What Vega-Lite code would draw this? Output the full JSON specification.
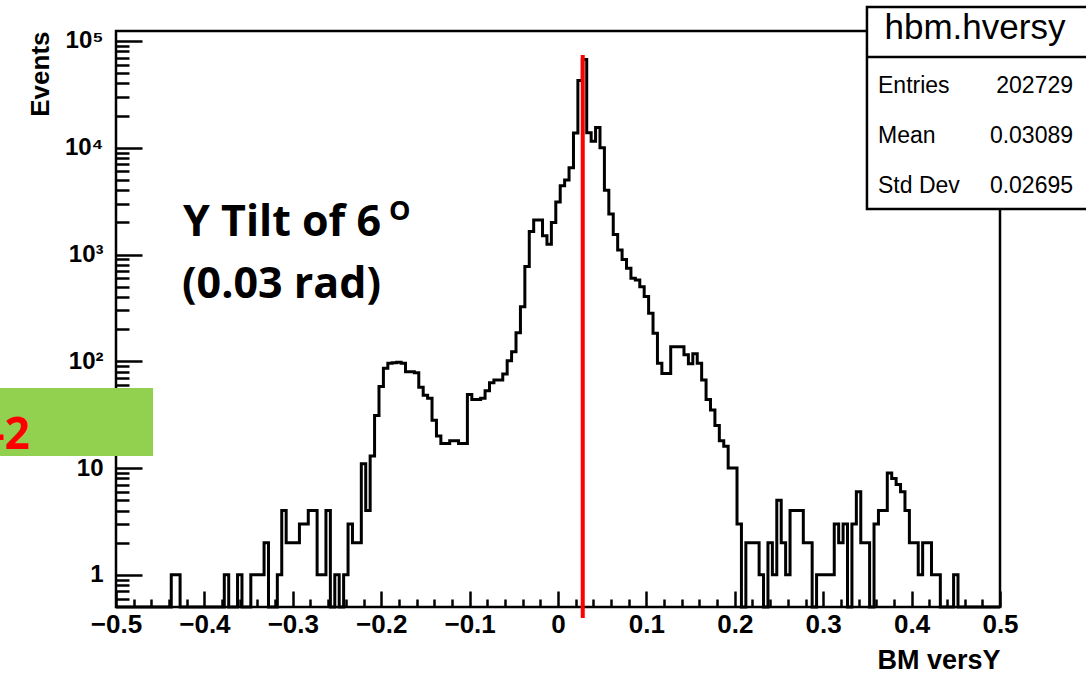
{
  "$schema": "https://vega.github.io/schema/vega-lite/v6.json",
  "width": 884,
  "height": 576,
  "autosize": {"type": "none"},
  "padding": {"left": 116, "top": 31, "right": 86, "bottom": 66},
  "background": "white",
  "config": {
    "view": {"stroke": "black", "strokeWidth": 2.5},
    "axis": {
      "domain": false, "grid": false, "tickColor": "black", "tickWidth": 2.5,
      "labelColor": "black", "titleColor": "black",
      "labelFont": "Liberation Sans", "titleFont": "Liberation Sans",
      "labelFontWeight": "bold", "titleFontWeight": "bold",
      "labelOverlap": false, "labelFlush": false, "labelBound": false
    }
  },
  "resolve": {"scale": {"y": "independent"}, "axis": {"x": "independent", "y": "independent"}},
  "layer": [
    {
      "data": {"values": [
        {"x":-0.5,"n":0},{"x":-0.495,"n":0},{"x":-0.49,"n":0},{"x":-0.485,"n":0},{"x":-0.48,"n":0},{"x":-0.475,"n":0},{"x":-0.47,"n":0},{"x":-0.465,"n":0},{"x":-0.46,"n":0},{"x":-0.455,"n":0},{"x":-0.45,"n":0},{"x":-0.445,"n":0},{"x":-0.44,"n":0},
        {"x":-0.435,"n":1},{"x":-0.43,"n":1},
        {"x":-0.425,"n":0},{"x":-0.42,"n":0},{"x":-0.415,"n":0},{"x":-0.41,"n":0},{"x":-0.405,"n":0},{"x":-0.4,"n":0},{"x":-0.395,"n":0},{"x":-0.39,"n":0},{"x":-0.385,"n":0},{"x":-0.38,"n":0},
        {"x":-0.375,"n":1},{"x":-0.37,"n":0},{"x":-0.365,"n":0},{"x":-0.36,"n":1},{"x":-0.355,"n":0},{"x":-0.35,"n":0},
        {"x":-0.345,"n":1},{"x":-0.34,"n":1},{"x":-0.335,"n":1},{"x":-0.33,"n":2},{"x":-0.325,"n":0},{"x":-0.32,"n":0},{"x":-0.315,"n":1},{"x":-0.31,"n":4},{"x":-0.305,"n":2},{"x":-0.3,"n":2},{"x":-0.295,"n":2},{"x":-0.29,"n":3},{"x":-0.285,"n":3},{"x":-0.28,"n":4},{"x":-0.275,"n":4},{"x":-0.27,"n":1},{"x":-0.265,"n":1},{"x":-0.26,"n":4},{"x":-0.255,"n":0},{"x":-0.25,"n":1},{"x":-0.245,"n":0},{"x":-0.24,"n":1},{"x":-0.235,"n":3},{"x":-0.23,"n":2},{"x":-0.225,"n":2},
        {"x":-0.22,"n":11},{"x":-0.215,"n":4},{"x":-0.21,"n":13},{"x":-0.205,"n":31},{"x":-0.2,"n":58},{"x":-0.195,"n":86},{"x":-0.19,"n":96},{"x":-0.185,"n":97},{"x":-0.18,"n":98},{"x":-0.175,"n":96},{"x":-0.17,"n":80},{"x":-0.165,"n":80},{"x":-0.16,"n":78},{"x":-0.155,"n":57},{"x":-0.15,"n":48},{"x":-0.145,"n":45},{"x":-0.14,"n":28},{"x":-0.135,"n":20},{"x":-0.13,"n":17},{"x":-0.125,"n":17},{"x":-0.12,"n":18},{"x":-0.115,"n":18},{"x":-0.11,"n":17},{"x":-0.105,"n":17},
        {"x":-0.1,"n":49},{"x":-0.095,"n":44},{"x":-0.09,"n":44},{"x":-0.085,"n":45},{"x":-0.08,"n":53},{"x":-0.075,"n":63},{"x":-0.07,"n":67},{"x":-0.065,"n":67},{"x":-0.06,"n":76},{"x":-0.055,"n":101},{"x":-0.05,"n":123},{"x":-0.045,"n":185},{"x":-0.04,"n":325},{"x":-0.035,"n":771},{"x":-0.03,"n":1640},{"x":-0.025,"n":2110},{"x":-0.02,"n":2110},{"x":-0.015,"n":1500},{"x":-0.01,"n":1250},{"x":-0.005,"n":2000},
        {"x":0,"n":3100},{"x":0.005,"n":4400},{"x":0.01,"n":5000},{"x":0.015,"n":6500},{"x":0.02,"n":13750},{"x":0.025,"n":42700},{"x":0.03,"n":67000},{"x":0.035,"n":13800},{"x":0.04,"n":11500},{"x":0.045,"n":15500},{"x":0.05,"n":10000},{"x":0.055,"n":4000},{"x":0.06,"n":2400},{"x":0.065,"n":1540},{"x":0.07,"n":1100},{"x":0.075,"n":900},{"x":0.08,"n":745},{"x":0.085,"n":600},{"x":0.09,"n":578},{"x":0.095,"n":500},
        {"x":0.1,"n":404},{"x":0.105,"n":282},{"x":0.11,"n":183},{"x":0.115,"n":96},{"x":0.12,"n":77},{"x":0.125,"n":77},{"x":0.13,"n":137},{"x":0.135,"n":137},{"x":0.14,"n":137},{"x":0.145,"n":115},{"x":0.15,"n":95},{"x":0.155,"n":118},{"x":0.16,"n":96},{"x":0.165,"n":67},{"x":0.17,"n":44},{"x":0.175,"n":35},{"x":0.18,"n":25},{"x":0.185,"n":18},{"x":0.19,"n":16},{"x":0.195,"n":10},
        {"x":0.2,"n":10},{"x":0.205,"n":3},{"x":0.21,"n":0},{"x":0.215,"n":2},{"x":0.22,"n":2},{"x":0.225,"n":2},{"x":0.23,"n":1},{"x":0.235,"n":0},{"x":0.24,"n":2},{"x":0.245,"n":1},{"x":0.25,"n":5},{"x":0.255,"n":2},{"x":0.26,"n":1},{"x":0.265,"n":4},{"x":0.27,"n":4},{"x":0.275,"n":4},{"x":0.28,"n":2},{"x":0.285,"n":2},{"x":0.29,"n":0},{"x":0.295,"n":1},
        {"x":0.3,"n":1},{"x":0.305,"n":1},{"x":0.31,"n":1},{"x":0.315,"n":3},{"x":0.32,"n":2},{"x":0.325,"n":3},{"x":0.33,"n":0},{"x":0.335,"n":3},{"x":0.34,"n":6},{"x":0.345,"n":2},{"x":0.35,"n":2},{"x":0.355,"n":0},{"x":0.36,"n":3},{"x":0.365,"n":4},{"x":0.37,"n":4},{"x":0.375,"n":9},{"x":0.38,"n":8},{"x":0.385,"n":7},{"x":0.39,"n":6},{"x":0.395,"n":4},
        {"x":0.4,"n":2},{"x":0.405,"n":2},{"x":0.41,"n":1},{"x":0.415,"n":2},{"x":0.42,"n":2},{"x":0.425,"n":1},{"x":0.43,"n":1},{"x":0.435,"n":0},{"x":0.44,"n":0},{"x":0.445,"n":0},{"x":0.45,"n":1},{"x":0.455,"n":0},{"x":0.46,"n":0},{"x":0.465,"n":0},{"x":0.47,"n":0},{"x":0.475,"n":0},{"x":0.48,"n":0},{"x":0.485,"n":0},{"x":0.49,"n":0},{"x":0.495,"n":0},{"x":0.5,"n":0}
      ]},
      "mark": {"type": "line", "interpolate": "step", "color": "black", "strokeWidth": 3, "invalid": "show"},
      "encoding": {
        "x": {
          "field": "x", "type": "quantitative",
          "scale": {"domain": [-0.5, 0.5], "nice": false, "zero": false},
          "axis": {
            "orient": "bottom",
            "values": [-0.5, -0.4, -0.3, -0.2, -0.1, 0, 0.1, 0.2, 0.3, 0.4, 0.5],
            "format": ".1~f", "tickSize": -16, "labelPadding": 20, "labelFontSize": 26,
            "title": "BM versY", "titleFontSize": 27, "titleAlign": "right", "titleAnchor": "end",
            "titleBaseline": "alphabetic", "titleX": 884, "titleY": 61
          }
        },
        "y": {
          "field": "n", "type": "quantitative",
          "scale": {"type": "log", "domain": [0.5, 124000], "clamp": true, "nice": false},
          "axis": {
            "orient": "left",
            "values": [1, 10, 100, 1000, 10000, 100000],
            "labelExpr": "datum.value == 1 ? '1' : datum.value == 10 ? '10' : datum.value == 100 ? '10²' : datum.value == 1000 ? '10³' : datum.value == 10000 ? '10⁴' : '10⁵'",
            "tickSize": -26, "labelPadding": 39, "labelFontSize": 24, "labelBaseline": "middle",
            "title": "Events", "titleFontSize": 26, "titleAngle": -90, "titleAlign": "right", "titleAnchor": "end",
            "titleBaseline": "alphabetic", "titleX": -68, "titleY": 0
          }
        }
      }
    },
    {
      "data": {"values": [{"xv": 0, "yv": 1}]},
      "mark": {"type": "point", "opacity": 0},
      "encoding": {
        "x": {
          "field": "xv", "type": "quantitative",
          "scale": {"domain": [-0.5, 0.5], "nice": false, "zero": false},
          "axis": {
            "orient": "bottom",
            "values": [-0.48,-0.46,-0.44,-0.42,-0.38,-0.36,-0.34,-0.32,-0.28,-0.26,-0.24,-0.22,-0.18,-0.16,-0.14,-0.12,-0.08,-0.06,-0.04,-0.02,0.02,0.04,0.06,0.08,0.12,0.14,0.16,0.18,0.22,0.24,0.26,0.28,0.32,0.34,0.36,0.38,0.42,0.44,0.46,0.48],
            "labels": false, "tickSize": -8, "title": null
          }
        },
        "y": {
          "field": "yv", "type": "quantitative",
          "scale": {"type": "log", "domain": [0.5, 124000], "nice": false},
          "axis": {
            "orient": "left",
            "values": [0.6,0.7,0.8,0.9,2,3,4,5,6,7,8,9,20,30,40,50,60,70,80,90,200,300,400,500,600,700,800,900,2000,3000,4000,5000,6000,7000,8000,9000,20000,30000,40000,50000,60000,70000,80000,90000],
            "labels": false, "tickSize": -13, "title": null
          }
        }
      }
    },
    {
      "layer": [
        {
          "data": {"values": [{"tilt": 0.028}]},
          "mark": {"type": "rule", "color": "#FF0000", "strokeWidth": 4},
          "encoding": {
            "x": {"field": "tilt", "type": "quantitative", "scale": {"domain": [-0.5, 0.5], "nice": false, "zero": false}, "axis": null},
            "y": {"datum": 73900, "type": "quantitative", "scale": {"type": "log", "domain": [0.5, 124000], "nice": false}, "axis": null},
            "y2": {"datum": 0.394}
          }
        },
        {
          "data": {"values": [{"box": "highlight"}]},
          "mark": {"type": "rect", "color": "#92D050"},
          "encoding": {
            "x": {"datum": -0.64, "type": "quantitative", "axis": null},
            "x2": {"datum": -0.4581},
            "y": {"datum": 56.2, "type": "quantitative", "scale": {"type": "log", "domain": [0.5, 124000], "nice": false}, "axis": null},
            "y2": {"datum": 12.97}
          }
        },
        {
          "data": {"values": [{"t": "-2"}]},
          "mark": {"type": "text", "align": "right", "baseline": "alphabetic", "font": "Open Sans", "fontWeight": "bold", "fontSize": 44, "color": "#FF0000"},
          "encoding": {
            "x": {"datum": -0.5973, "type": "quantitative", "axis": null},
            "y": {"datum": 15.08, "type": "quantitative", "scale": {"type": "log", "domain": [0.5, 124000], "nice": false}, "axis": null},
            "text": {"field": "t"}
          }
        },
        {
          "data": {"values": [{"t": "Y Tilt of 6"}]},
          "mark": {"type": "text", "align": "left", "baseline": "alphabetic", "font": "Open Sans", "fontWeight": "bold", "fontSize": 43, "color": "black"},
          "encoding": {
            "x": {"datum": -0.4242, "type": "quantitative", "axis": null},
            "y": {"datum": 1491, "type": "quantitative", "scale": {"type": "log", "domain": [0.5, 124000], "nice": false}, "axis": null},
            "text": {"field": "t"}
          }
        },
        {
          "data": {"values": [{"t": "O"}]},
          "mark": {"type": "text", "align": "left", "baseline": "alphabetic", "font": "Open Sans", "fontWeight": "bold", "fontSize": 27, "color": "black"},
          "encoding": {
            "x": {"datum": -0.1912, "type": "quantitative", "axis": null},
            "y": {"datum": 2105, "type": "quantitative", "scale": {"type": "log", "domain": [0.5, 124000], "nice": false}, "axis": null},
            "text": {"field": "t"}
          }
        },
        {
          "data": {"values": [{"t": "(0.03 rad)"}]},
          "mark": {"type": "text", "align": "left", "baseline": "alphabetic", "font": "Open Sans", "fontWeight": "bold", "fontSize": 43, "color": "black"},
          "encoding": {
            "x": {"datum": -0.4253, "type": "quantitative", "axis": null},
            "y": {"datum": 391, "type": "quantitative", "scale": {"type": "log", "domain": [0.5, 124000], "nice": false}, "axis": null},
            "text": {"field": "t"}
          }
        },
        {
          "data": {"values": [{"box": "stats"}]},
          "mark": {"type": "rect", "fill": "white", "stroke": "black", "strokeWidth": 2.5},
          "encoding": {
            "x": {"datum": 0.3495, "type": "quantitative", "axis": null},
            "x2": {"datum": 0.62},
            "y": {"datum": 208000, "type": "quantitative", "scale": {"type": "log", "domain": [0.5, 124000], "nice": false}, "axis": null},
            "y2": {"datum": 2669}
          }
        },
        {
          "data": {"values": [{"box": "separator"}]},
          "mark": {"type": "rule", "color": "black", "strokeWidth": 2.5},
          "encoding": {
            "x": {"datum": 0.3495, "type": "quantitative", "axis": null},
            "x2": {"datum": 0.62},
            "y": {"datum": 70780, "type": "quantitative", "scale": {"type": "log", "domain": [0.5, 124000], "nice": false}, "axis": null}
          }
        },
        {
          "data": {"values": [{"t": "hbm.hversy"}]},
          "mark": {"type": "text", "align": "center", "baseline": "alphabetic", "font": "Liberation Sans", "fontSize": 35, "color": "black"},
          "encoding": {
            "x": {"datum": 0.4717, "type": "quantitative", "axis": null},
            "y": {"datum": 104300, "type": "quantitative", "scale": {"type": "log", "domain": [0.5, 124000], "nice": false}, "axis": null},
            "text": {"field": "t"}
          }
        },
        {
          "data": {"values": [{"t": "Entries"}]},
          "mark": {"type": "text", "align": "left", "baseline": "alphabetic", "font": "Liberation Sans", "fontSize": 23, "color": "black"},
          "encoding": {
            "x": {"datum": 0.362, "type": "quantitative", "axis": null},
            "y": {"datum": 32560, "type": "quantitative", "scale": {"type": "log", "domain": [0.5, 124000], "nice": false}, "axis": null},
            "text": {"field": "t"}
          }
        },
        {
          "data": {"values": [{"t": "202729"}]},
          "mark": {"type": "text", "align": "right", "baseline": "alphabetic", "font": "Liberation Sans", "fontSize": 23, "color": "black"},
          "encoding": {
            "x": {"datum": 0.5826, "type": "quantitative", "axis": null},
            "y": {"datum": 32560, "type": "quantitative", "scale": {"type": "log", "domain": [0.5, 124000], "nice": false}, "axis": null},
            "text": {"field": "t"}
          }
        },
        {
          "data": {"values": [{"t": "Mean"}]},
          "mark": {"type": "text", "align": "left", "baseline": "alphabetic", "font": "Liberation Sans", "fontSize": 23, "color": "black"},
          "encoding": {
            "x": {"datum": 0.362, "type": "quantitative", "axis": null},
            "y": {"datum": 11080, "type": "quantitative", "scale": {"type": "log", "domain": [0.5, 124000], "nice": false}, "axis": null},
            "text": {"field": "t"}
          }
        },
        {
          "data": {"values": [{"t": "0.03089"}]},
          "mark": {"type": "text", "align": "right", "baseline": "alphabetic", "font": "Liberation Sans", "fontSize": 23, "color": "black"},
          "encoding": {
            "x": {"datum": 0.5826, "type": "quantitative", "axis": null},
            "y": {"datum": 11080, "type": "quantitative", "scale": {"type": "log", "domain": [0.5, 124000], "nice": false}, "axis": null},
            "text": {"field": "t"}
          }
        },
        {
          "data": {"values": [{"t": "Std Dev"}]},
          "mark": {"type": "text", "align": "left", "baseline": "alphabetic", "font": "Liberation Sans", "fontSize": 23, "color": "black"},
          "encoding": {
            "x": {"datum": 0.362, "type": "quantitative", "axis": null},
            "y": {"datum": 3768, "type": "quantitative", "scale": {"type": "log", "domain": [0.5, 124000], "nice": false}, "axis": null},
            "text": {"field": "t"}
          }
        },
        {
          "data": {"values": [{"t": "0.02695"}]},
          "mark": {"type": "text", "align": "right", "baseline": "alphabetic", "font": "Liberation Sans", "fontSize": 23, "color": "black"},
          "encoding": {
            "x": {"datum": 0.5826, "type": "quantitative", "axis": null},
            "y": {"datum": 3768, "type": "quantitative", "scale": {"type": "log", "domain": [0.5, 124000], "nice": false}, "axis": null},
            "text": {"field": "t"}
          }
        }
      ]
    }
  ]
}
